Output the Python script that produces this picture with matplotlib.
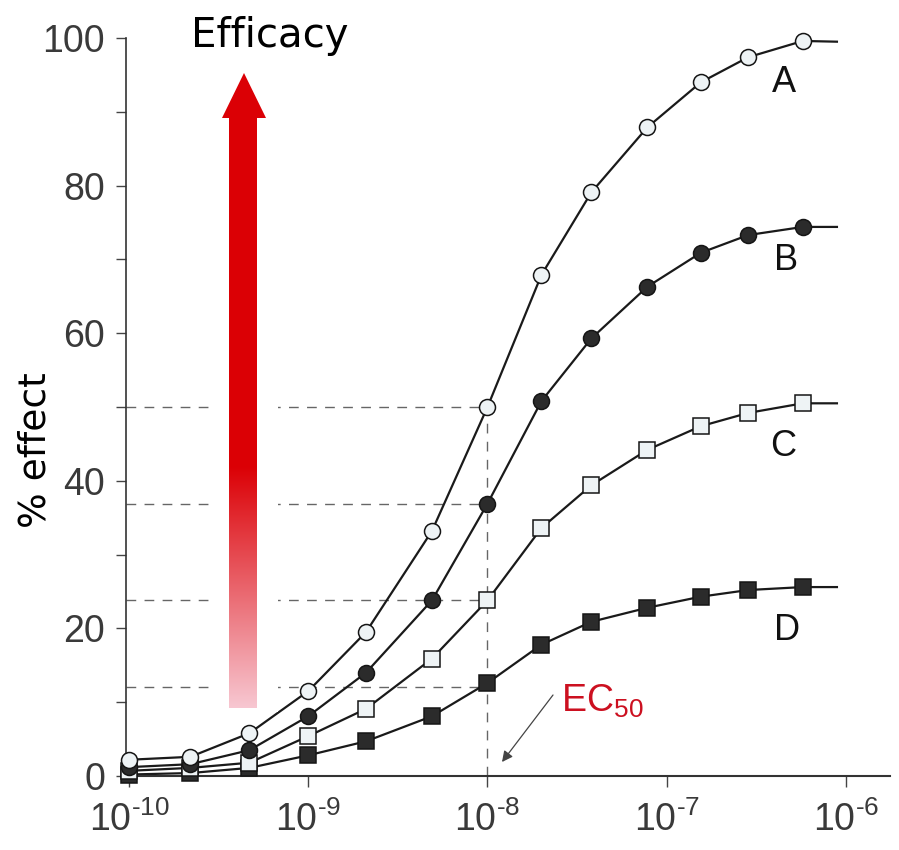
import matplotlib
matplotlib.use("Agg")
import matplotlib.pyplot as plt
from matplotlib.patches import Rectangle, Polygon
from matplotlib.ticker import FixedLocator, NullLocator
import numpy as np

plt.rcParams['mathtext.fontset'] = 'custom'
plt.rcParams['mathtext.rm'] = 'Liberation Sans'
plt.rcParams['mathtext.it'] = 'Liberation Sans'
plt.rcParams['mathtext.bf'] = 'Liberation Sans'

# drug concentration (M) at each measured point
conc = [1e-10, 2.2e-10, 4.7e-10, 1e-9, 2.1e-9, 4.9e-9, 1e-8, 2e-8,
        3.8e-8, 7.8e-8, 1.55e-7, 2.85e-7, 5.75e-7]
conc_end = 8.9e-7   # where the fitted curves stop

# % effect for the four agonists
effect_a = [2.2, 2.6, 5.8, 11.5, 19.5, 33.2, 50.0, 67.9, 79.1, 87.9, 94.0, 97.4, 99.6]
effect_b = [1.2, 1.6, 3.5, 8.1, 14.0, 23.8, 36.9, 50.8, 59.3, 66.3, 70.9, 73.3, 74.4]
effect_c = [0.7, 1.1, 1.8, 5.4, 9.1, 15.9, 23.8, 33.6, 39.4, 44.2, 47.4, 49.2, 50.5]
effect_d = [0.2, 0.4, 1.1, 2.8, 4.7, 8.1, 12.6, 17.8, 20.9, 22.8, 24.3, 25.2, 25.6]
effect_end = [99.5, 74.4, 50.5, 25.6]

curve_names = ["A", "B", "C", "D"]
half_max = [50.0, 36.9, 23.8, 12.1]
ec50 = 1e-8

x_ticks = [1e-10, 1e-9, 1e-8, 1e-7, 1e-6]
x_tick_labels = [r'$10^{\text{-10}}$', r'$10^{\text{-9}}$', r'$10^{\text{-8}}$',
                 r'$10^{\text{-7}}$', r'$10^{\text{-6}}$']
y_ticks = [0, 20, 40, 60, 80, 100]
y_minor = [10, 30, 50, 70, 90]

W, H = 899, 850
FONT = 'Liberation Sans'


def fpos(x, y):
    # pixel position (from top-left) -> figure fraction
    return x / W, 1 - y / H


fig = plt.figure(figsize=(W / 100, H / 100), dpi=100)
ax = fig.add_axes([126 / W, 1 - 776 / H, 764 / W, 738 / H])
ax.set_xscale('log')
ax.set_xlim(10 ** -10.0167, 10 ** -5.7545)
ax.set_ylim(0, 100)

# dashed guide lines to the EC50
ax.hlines(half_max, ax.get_xlim()[0], ec50, colors='#666666', lw=1.0,
          linestyles=(0, (7, 6)), zorder=1)
ax.vlines(ec50, 0, max(half_max), colors='#666666', lw=1.0,
          linestyles=(0, (7, 6)), zorder=1)

series = [effect_a, effect_b, effect_c, effect_d]
markers = ['o', 'o', 's', 's']
faces = ['#eef3f5', '#2b2b2b', '#eef3f5', '#2b2b2b']
sizes = [11.5, 11.5, 11, 11]

for i in [3, 2, 1, 0]:
    ax.plot(conc + [conc_end], series[i] + [effect_end[i]], color='#1a1a1a',
            lw=1.6, zorder=2, clip_on=False)
    ax.plot(conc, series[i], linestyle='none', marker=markers[i], ms=sizes[i],
            mfc=faces[i], mec='#151515', mew=1.1, zorder=3 + (3 - i), clip_on=False)

for sp in ['top', 'right']:
    ax.spines[sp].set_visible(False)
ax.spines['left'].set_color('#333333')
ax.spines['left'].set_linewidth(1.2)
ax.spines['bottom'].set_color('#333333')
ax.spines['bottom'].set_linewidth(1.5)

ax.yaxis.set_major_locator(FixedLocator(y_ticks))
ax.yaxis.set_minor_locator(FixedLocator(y_minor))
ax.xaxis.set_major_locator(FixedLocator(x_ticks))
ax.xaxis.set_minor_locator(NullLocator())
ax.set_xticklabels(x_tick_labels)
ax.tick_params(axis='y', which='both', direction='out', length=7, width=1,
               color='#444444', pad=8)
ax.tick_params(axis='x', which='both', direction='out', length=8, width=1,
               color='#444444', pad=10)
for lab in ax.get_yticklabels() + ax.get_xticklabels():
    lab.set_fontfamily(FONT)
    lab.set_fontsize(27)
    lab.set_color('#3a3a3a')

# curve labels
label_pos = [(784, 82), (786, 260), (783, 447), (787, 631)]
for name, (px, py) in zip(curve_names, label_pos):
    fig.text(*fpos(px, py), name, ha='center', va='center', fontsize=26,
             family=FONT, color='#111111')

fig.text(*fpos(561, 712), r'EC$_{50}$', ha='left', va='baseline', fontsize=27,
         color='#cc1020', family=FONT)
ax.annotate('', xy=(502, H - 762), xycoords='figure pixels',
            xytext=(553, H - 695), textcoords='figure pixels',
            arrowprops=dict(arrowstyle='-|>', color='#444444', lw=0.9,
                            mutation_scale=16, shrinkA=0, shrinkB=0))

fig.text(*fpos(270, 47), 'Efficacy', ha='center', va='baseline', fontsize=29,
         family='DejaVu Sans', color='black')
fig.text(*fpos(36, 450), '% effect', ha='center', va='center', rotation=90,
         fontsize=27, family='DejaVu Sans', color='black')

# red gradient "efficacy" arrow on a white patch
ox = fig.add_axes([212 / W, 1 - 712 / H, 66 / W, 652 / H])
ox.axis('off')
ox.add_patch(Rectangle((212, 60), 66, 652, facecolor='white', edgecolor='none',
                       zorder=1))
arrow = Polygon([(229, 708), (229, 118), (222, 118), (244, 73), (266, 118),
                 (257, 118), (257, 708)], closed=True, facecolor='none',
                edgecolor='none')
ox.add_patch(arrow)
n = 300
t = np.linspace(0, 1, n)
red = np.array([0.86, 0.0, 0.02])
pale = np.array([0.97, 0.78, 0.82])
mix = np.clip((t - 0.62) / 0.38, 0, 1)[:, None]
cols = red * (1 - mix) + pale * mix
grad = np.repeat(cols[:, None, :], 2, axis=1)
im = ox.imshow(grad, extent=(222, 266, 708, 73), origin='upper', aspect='auto',
               interpolation='bilinear', zorder=3)
im.set_clip_path(arrow)
ox.set_xlim(212, 278)
ox.set_ylim(712, 60)

fig.savefig('out.png', dpi=100)
